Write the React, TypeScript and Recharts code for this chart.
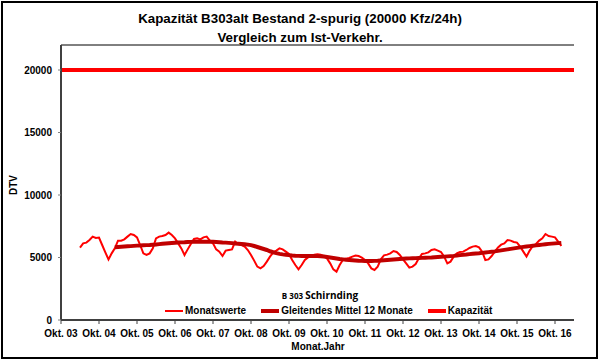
import React from 'react';
import { LineChart, Line, XAxis, YAxis, CartesianGrid, Legend } from 'recharts';

// month index 0 = Okt. 03
const MONTH_COUNT = 163;
const START_MONAT = 6; // Apr 04
const START_MITTEL = 17; // Mar 05

const tickMonths = [0, 12, 24, 36, 48, 60, 72, 84, 96, 108, 120, 132, 144, 156];
const tickLabels = [
  'Okt. 03', 'Okt. 04', 'Okt. 05', 'Okt. 06', 'Okt. 07', 'Okt. 08', 'Okt. 09',
  'Okt. 10', 'Okt. 11', 'Okt. 12', 'Okt. 13', 'Okt. 14', 'Okt. 15', 'Okt. 16',
];
const yTicks = [0, 5000, 10000, 15000, 20000];
const seriesNames = ['Monatswerte', 'Gleitendes Mittel 12 Monate', 'Kapazität'];

const monatswerte = [
  5790, 6130, 6190, 6400, 6670, 6560, 6590, 6000, 5410, 4850, 5330, 5730,
  6350, 6350, 6450, 6670, 6880, 6800, 6610, 6000, 5330, 5200, 5330, 5730,
  6530, 6670, 6720, 6800, 6990, 6800, 6530, 6130, 5730, 5200, 5650, 6080,
  6480, 6530, 6450, 6610, 6670, 6350, 6130, 5650, 5470, 5120, 5550, 5600,
  5650, 6270, 6080, 6000, 5870, 5600, 5200, 4750, 4270, 4130, 4320, 4670,
  5070, 5390, 5550, 5730, 5650, 5470, 5280, 4800, 4400, 4050, 4400, 4800,
  5010, 5120, 5230, 5250, 5230, 5120, 4930, 4530, 4050, 3870, 4400, 4800,
  4910, 4960, 5070, 5150, 5120, 4990, 4800, 4530, 4130, 4000, 4270, 4850,
  5170, 5230, 5330, 5520, 5440, 5200, 4850, 4530, 4190, 4270, 4480, 4930,
  5280, 5330, 5410, 5600, 5650, 5550, 5440, 5070, 4530, 4670, 5070, 5330,
  5440, 5470, 5600, 5760, 5870, 5920, 5810, 5470, 4800, 4850, 5120, 5470,
  5810, 6030, 6130, 6400, 6350, 6240, 6190, 5870, 5470, 5070, 5550, 5920,
  6080, 6350, 6530, 6880, 6720, 6670, 6610, 6270, 5920,
];

const gleitendesMittel = [
  5820, 5840, 5860, 5880, 5900, 5910, 5930, 5950, 5960, 5980, 5990, 6000,
  6020, 6040, 6070, 6100, 6120, 6140, 6160, 6180, 6200, 6210, 6220, 6240,
  6250, 6260, 6270, 6270, 6270, 6270, 6270, 6260, 6240, 6220, 6200, 6190,
  6170, 6150, 6120, 6100, 6080, 6060, 6030, 5990, 5920, 5840, 5760, 5680,
  5600, 5500, 5420, 5350, 5290, 5250, 5220, 5190, 5160, 5140, 5130, 5120,
  5120, 5120, 5120, 5120, 5110, 5100, 5080, 5040, 5000, 4960, 4920, 4880,
  4850, 4820, 4800, 4780, 4760, 4740, 4730, 4720, 4720, 4720, 4730, 4740,
  4760, 4780, 4800, 4820, 4840, 4860, 4880, 4900, 4920, 4930, 4940, 4950,
  4960, 4970, 4980, 4990, 5000, 5020, 5040, 5060, 5070, 5090, 5110, 5130,
  5160, 5190, 5220, 5240, 5270, 5300, 5320, 5340, 5370, 5400, 5430, 5460,
  5490, 5530, 5570, 5610, 5650, 5690, 5730, 5770, 5810, 5850, 5880, 5910,
  5940, 5970, 6000, 6030, 6060, 6090, 6110, 6130, 6150, 6170,
];

const kapazitaet = 20000;

const rows = Array.from({ length: MONTH_COUNT }, (_, i) => {
  const a = i - START_MONAT;
  const b = i - START_MITTEL;
  return {
    m: i,
    monat: a >= 0 && a < monatswerte.length ? monatswerte[a] : null,
    mittel: b >= 0 && b < gleitendesMittel.length ? gleitendesMittel[b] : null,
    kap: kapazitaet,
  };
});

const FONT = '"Liberation Sans", Arial, sans-serif';

const renderLegend = (props: any) => {
  const payload = [...(props.payload || [])].sort(
    (x: any, y: any) => seriesNames.indexOf(x.value) - seriesNames.indexOf(y.value)
  );
  return (
    <div style={{ position: 'relative', width: 600, height: 30, fontFamily: FONT }}>
      <div
        style={{
          position: 'absolute', left: 0, width: 640, top: 1, textAlign: 'center',
          fontFamily: '"Open Sans", "Noto Sans", sans-serif', fontWeight: 'bold',
          fontSize: 10, lineHeight: '13px', color: '#000',
        }}
      >
        <span style={{ fontSize: 8 }}>B 303 </span>Schirnding
      </div>
      <div style={{ position: 'absolute', left: 165, top: 17, display: 'flex', alignItems: 'center' }}>
        {payload.map((p: any, idx: number) => (
          <div key={idx} style={{ display: 'flex', alignItems: 'center', marginRight: 15 }}>
            <div
              style={{
                width: 18,
                height: p.payload.strokeWidth >= 3 ? 4 : 2,
                background: p.color,
                marginRight: 2,
              }}
            />
            <span style={{ fontSize: 10, fontWeight: 'bold', color: '#000', lineHeight: '12px', whiteSpace: 'nowrap' }}>
              {p.value}
            </span>
          </div>
        ))}
      </div>
    </div>
  );
};

export default function App() {
  return (
    <div style={{ position: 'absolute', left: 0, top: 0, width: 600, height: 361, background: '#fff', fontFamily: FONT }}>
      <div
        style={{
          position: 'absolute', left: 1, top: 1, width: 597, height: 358,
          border: '2px solid #000', boxSizing: 'border-box',
        }}
      />
      <div
        style={{
          position: 'absolute', left: 0, top: 9, width: 600, textAlign: 'center',
          fontWeight: 'bold', fontSize: 13.33, lineHeight: '19px', color: '#000',
        }}
      >
        <div>Kapazität B303alt Bestand 2-spurig (20000 Kfz/24h)</div>
        <div>Vergleich zum Ist-Verkehr.</div>
      </div>
      <div
        style={{
          position: 'absolute', left: 14, top: 185, width: 0, height: 0,
        }}
      >
        <div
          style={{
            position: 'absolute', left: -20, top: -7, width: 40, textAlign: 'center',
            transform: 'rotate(-90deg)', fontWeight: 'bold', fontSize: 10, lineHeight: '14px', color: '#000',
          }}
        >
          DTV
        </div>
      </div>
      <div
        style={{
          position: 'absolute', left: 268, top: 341, width: 100, textAlign: 'center',
          fontWeight: 'bold', fontSize: 10, lineHeight: '12px', color: '#000',
        }}
      >
        Monat.Jahr
      </div>
      <div style={{ position: 'absolute', left: 0, top: 0 }}>
        <LineChart width={600} height={361} data={rows} margin={{ top: 45, right: 26, bottom: 0, left: 0 }}>
          <CartesianGrid horizontal vertical={false} stroke="#000" strokeWidth={1} />
          <XAxis
            xAxisId="b"
            dataKey="m"
            type="number"
            domain={[0, 162]}
            ticks={tickMonths}
            tickFormatter={(v: number) => tickLabels[tickMonths.indexOf(v)] ?? ''}
            height={41}
            tickSize={4}
            tickMargin={6}
            interval={0}
            axisLine={{ stroke: '#404040', strokeWidth: 2 }}
            tickLine={{ stroke: '#404040' }}
            tick={{ fontSize: 10, fontWeight: 'bold', fill: '#000', fontFamily: FONT }}
          />
          <XAxis
            xAxisId="t"
            orientation="top"
            type="number"
            domain={[0, 162]}
            height={0}
            tick={false}
            tickLine={false}
            axisLine={{ stroke: '#8c8c8c', strokeWidth: 2 }}
          />
          <YAxis
            yAxisId="l"
            domain={[0, 22000]}
            ticks={yTicks}
            width={61}
            tickSize={3}
            tickMargin={6}
            interval={0}
            axisLine={{ stroke: '#404040', strokeWidth: 2 }}
            tickLine={{ stroke: '#808080' }}
            tick={{ fontSize: 10, fontWeight: 'bold', fill: '#000', fontFamily: FONT }}
          />
          <YAxis
            yAxisId="r"
            orientation="right"
            domain={[0, 22000]}
            width={0}
            tick={false}
            tickLine={false}
            axisLine={{ stroke: '#8c8c8c', strokeWidth: 2 }}
          />
          <Legend
            layout="horizontal"
            verticalAlign="middle"
            align="center"
            content={renderLegend}
            wrapperStyle={{ position: 'absolute', left: 0, top: 288, width: 600 }}
          />
          <Line
            xAxisId="b"
            yAxisId="l"
            name="Monatswerte"
            dataKey="monat"
            stroke="#ff0000"
            strokeWidth={2}
            dot={false}
            isAnimationActive={false}
            type="linear"
          />
          <Line
            xAxisId="b"
            yAxisId="l"
            name="Gleitendes Mittel 12 Monate"
            dataKey="mittel"
            stroke="#c00000"
            strokeWidth={4}
            dot={false}
            isAnimationActive={false}
            type="linear"
          />
          <Line
            xAxisId="b"
            yAxisId="l"
            name="Kapazität"
            dataKey="kap"
            stroke="#ff0000"
            strokeWidth={4}
            dot={false}
            isAnimationActive={false}
            type="linear"
          />
        </LineChart>
      </div>
    </div>
  );
}
